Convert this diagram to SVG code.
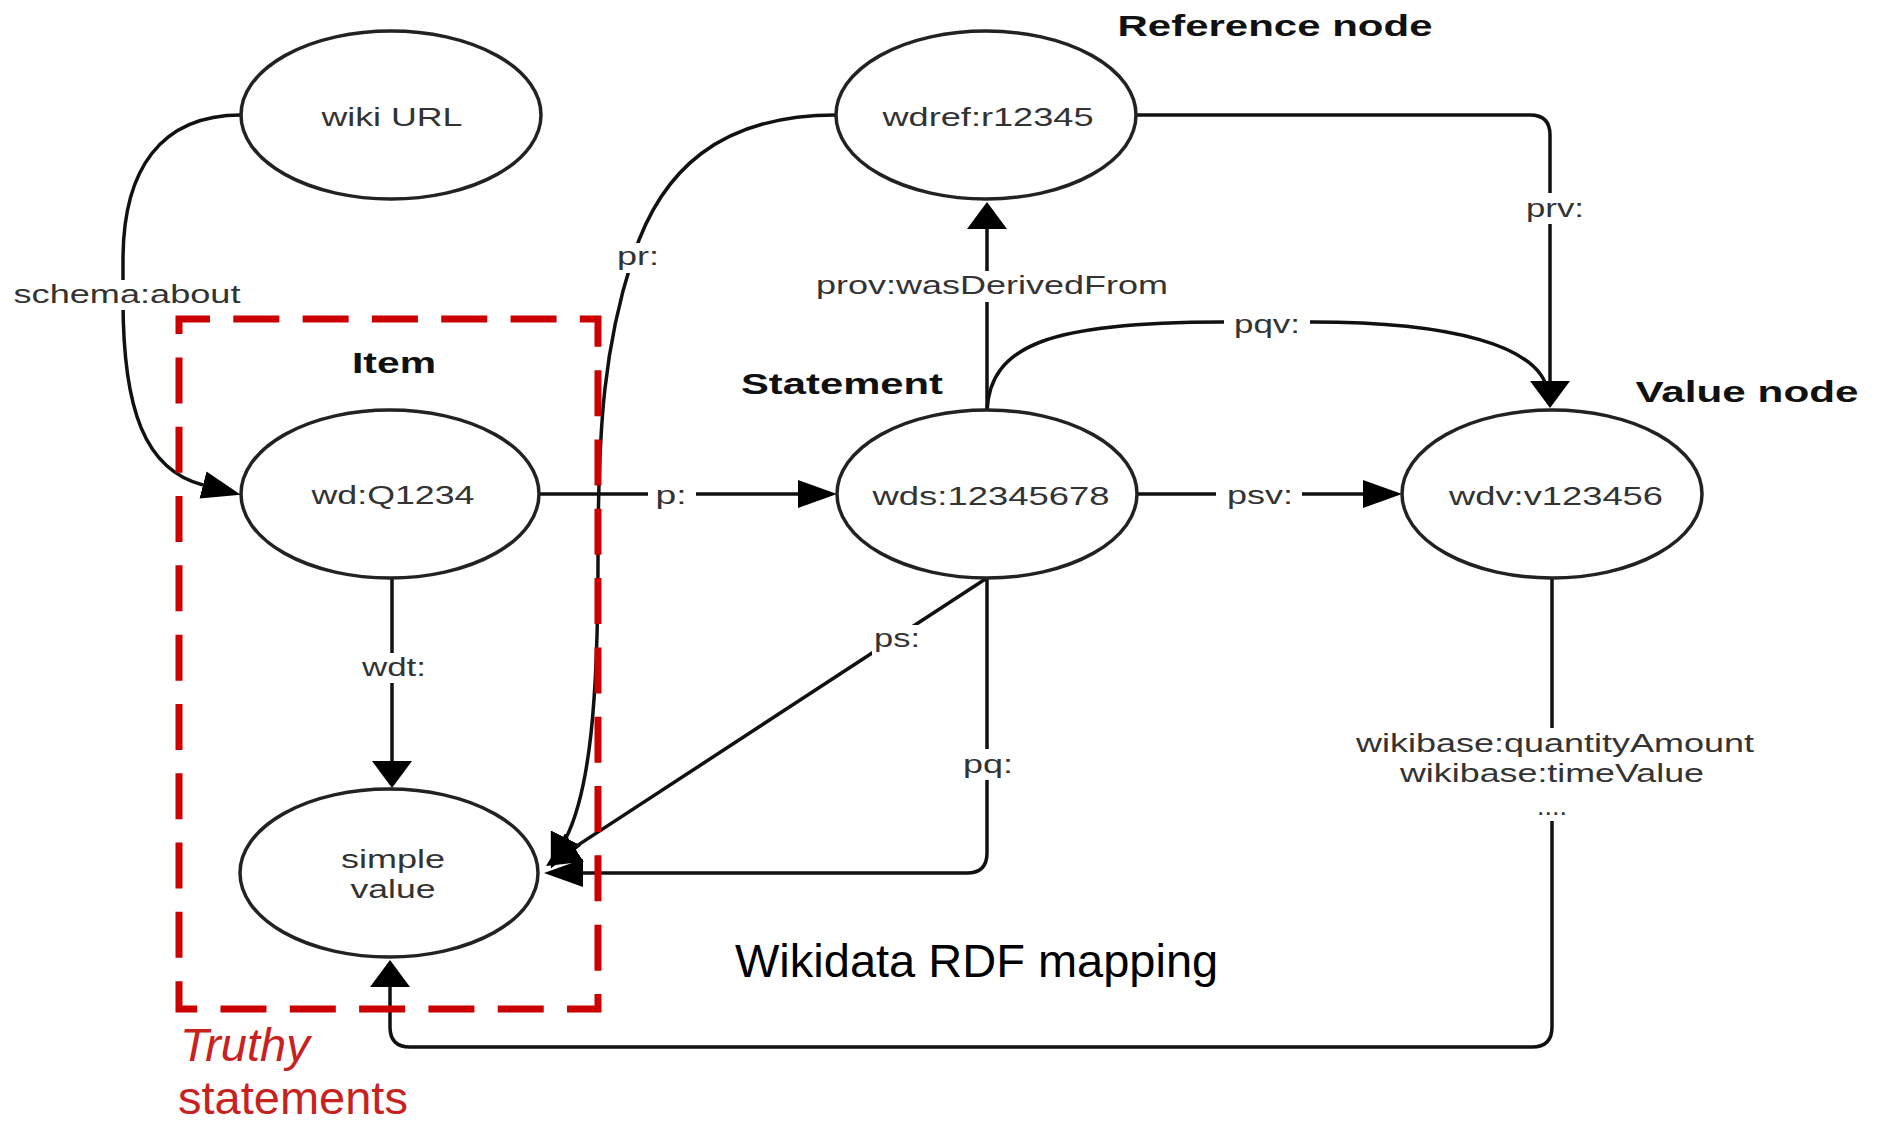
<svg xmlns="http://www.w3.org/2000/svg" width="1883" height="1126" viewBox="0 0 1883 1126">
<style>
.node ellipse{fill:#fff;stroke:#222;stroke-width:3.5}
.t{font-family:"Liberation Sans",Arial,sans-serif;font-size:26px;fill:#333;text-anchor:middle}
.title{font-family:"Liberation Sans",Arial,sans-serif;font-size:30px;font-weight:bold;fill:#111;text-anchor:middle}
.edge{fill:none;stroke:#111;stroke-width:3.5}
.lbg{fill:#fff}
.slide{font-family:"Liberation Sans",Arial,sans-serif;font-size:47px}
</style>
<defs>
<marker id="arrV" viewBox="0 -20 27 40" refX="0" refY="0" markerWidth="27" markerHeight="40" markerUnits="userSpaceOnUse" orient="auto"><path d="M0,-20 L27,0 L0,20 Z" fill="#000"/></marker>
<marker id="arrH" viewBox="0 -14 39 28" refX="0" refY="0" markerWidth="39" markerHeight="28" markerUnits="userSpaceOnUse" orient="auto"><path d="M0,-14 L39,0 L0,14 Z" fill="#000"/></marker>
<marker id="arrD" viewBox="0 -17 34 34" refX="0" refY="0" markerWidth="34" markerHeight="34" markerUnits="userSpaceOnUse" orient="auto"><path d="M0,-17 L34,0 L0,17 Z" fill="#000"/></marker>
</defs>
<rect width="1883" height="1126" fill="#fff"/>
<g id="connectors">
<g id="e-schema-about">
<path class="edge" d="M241,115 C160,115 123,170 123,260 L123,300 C123,410 145,470 203,485" marker-end="url(#arrH)"/>
<rect class="lbg" x="11" y="280" width="233" height="30"/>
<text class="t" x="127" y="303" textLength="227" lengthAdjust="spacingAndGlyphs">schema:about</text>
</g>
<g id="e-pr">
<path class="edge" d="M836,115 C720,115 660,170 632,260 C605,345 598,420 598,560 C598,700 590,790 566,838" marker-end="url(#arrD)"/>
<rect class="lbg" x="615" y="243" width="46" height="30"/>
<text class="t" x="638" y="265" textLength="42" lengthAdjust="spacingAndGlyphs">pr:</text>
</g>
<g id="e-prov">
<path class="edge" d="M987,411 L987,229" marker-end="url(#arrV)"/>
<rect class="lbg" x="813" y="271" width="358" height="31"/>
<text class="t" x="992" y="294" textLength="352" lengthAdjust="spacingAndGlyphs">prov:wasDerivedFrom</text>
</g>
<g id="e-pqv">
<path class="edge" d="M987,411 C990,345 1050,322 1222,322 L1312,322 C1450,322 1540,345 1548,392"/>
<rect class="lbg" x="1224" y="309" width="86" height="30"/>
<text class="t" x="1267" y="333" textLength="66" lengthAdjust="spacingAndGlyphs">pqv:</text>
</g>
<g id="e-prv">
<path class="edge" d="M1136,115 L1530,115 Q1550,115 1550,135 L1550,381" marker-end="url(#arrV)"/>
<rect class="lbg" x="1524" y="193" width="62" height="31"/>
<text class="t" x="1555" y="217" textLength="58" lengthAdjust="spacingAndGlyphs">prv:</text>
</g>
<g id="e-p">
<path class="edge" d="M539,494 L798,494" marker-end="url(#arrH)"/>
<rect class="lbg" x="648" y="481" width="48" height="30"/>
<text class="t" x="671" y="504" textLength="31" lengthAdjust="spacingAndGlyphs">p:</text>
</g>
<g id="e-psv">
<path class="edge" d="M1137,494 L1363,494" marker-end="url(#arrH)"/>
<rect class="lbg" x="1216" y="481" width="86" height="30"/>
<text class="t" x="1260" y="504" textLength="66" lengthAdjust="spacingAndGlyphs">psv:</text>
</g>
<g id="e-wdt">
<path class="edge" d="M392,577 L392,761" marker-end="url(#arrV)"/>
<rect class="lbg" x="358" y="653" width="72" height="30"/>
<text class="t" x="394" y="676" textLength="64" lengthAdjust="spacingAndGlyphs">wdt:</text>
</g>
<g id="e-ps">
<path class="edge" d="M987,578 L574.5,847.4" marker-end="url(#arrD)"/>
<rect class="lbg" x="872" y="625" width="50" height="30"/>
<text class="t" x="897" y="647" textLength="46" lengthAdjust="spacingAndGlyphs">ps:</text>
</g>
<g id="e-pq">
<path class="edge" d="M987,578 L987,853 Q987,873 967,873 L583,873" marker-end="url(#arrH)"/>
<rect class="lbg" x="961" y="749" width="54" height="31"/>
<text class="t" x="988" y="773" textLength="50" lengthAdjust="spacingAndGlyphs">pq:</text>
</g>
<g id="e-value">
<path class="edge" d="M1552,578 L1552,1027 Q1552,1047 1532,1047 L410,1047 Q390,1047 390,1027 L390,987" marker-end="url(#arrV)"/>
<rect class="lbg" x="1350" y="728" width="410" height="93"/>
<text class="t" x="1555" y="752" textLength="398" lengthAdjust="spacingAndGlyphs">wikibase:quantityAmount</text>
<text class="t" x="1552" y="782" textLength="304" lengthAdjust="spacingAndGlyphs">wikibase:timeValue</text>
<text class="t" x="1552" y="815" textLength="30" lengthAdjust="spacingAndGlyphs">....</text>
</g>
</g>
<g id="node-wiki-url" class="node">
<ellipse cx="391" cy="115" rx="150" ry="84"/>
<text class="t" x="392" y="126" textLength="141" lengthAdjust="spacingAndGlyphs">wiki URL</text>
</g>
<g id="node-wdref" class="node">
<ellipse cx="986" cy="115" rx="150" ry="84"/>
<text class="t" x="988" y="126" textLength="211" lengthAdjust="spacingAndGlyphs">wdref:r12345</text>
<text class="title" x="1275" y="36" textLength="315" lengthAdjust="spacingAndGlyphs">Reference node</text>
</g>
<g id="node-item" class="node">
<ellipse cx="390" cy="494" rx="149" ry="84"/>
<text class="t" x="393" y="504" textLength="163" lengthAdjust="spacingAndGlyphs">wd:Q1234</text>
<text class="title" x="394" y="373" textLength="84" lengthAdjust="spacingAndGlyphs">Item</text>
</g>
<g id="node-statement" class="node">
<ellipse cx="987" cy="494" rx="150" ry="84"/>
<text class="t" x="991" y="505" textLength="237" lengthAdjust="spacingAndGlyphs">wds:12345678</text>
<text class="title" x="842" y="394" textLength="202" lengthAdjust="spacingAndGlyphs">Statement</text>
</g>
<g id="node-value" class="node">
<ellipse cx="1552" cy="494" rx="150" ry="84"/>
<text class="t" x="1556" y="505" textLength="214" lengthAdjust="spacingAndGlyphs">wdv:v123456</text>
<text class="title" x="1747" y="402" textLength="223" lengthAdjust="spacingAndGlyphs">Value node</text>
</g>
<g id="node-simple-value" class="node">
<ellipse cx="389" cy="873" rx="149" ry="84"/>
<text class="t" x="393" y="868" textLength="104" lengthAdjust="spacingAndGlyphs">simple</text>
<text class="t" x="393" y="898" textLength="85" lengthAdjust="spacingAndGlyphs">value</text>
</g>
<g id="truthy-box">
<path d="M179,319 H598 V1009 H179 Z" fill="none" stroke="#cc0000" stroke-width="7" stroke-dasharray="46 23.31" stroke-dashoffset="15"/>
<text class="slide" x="180" y="1061" font-style="italic" fill="#c8221f" font-size="46">Truthy</text>
<text class="slide" x="178" y="1114" fill="#c8221f" font-size="46">statements</text>
</g>
<text class="slide" x="735" y="977" fill="#000">Wikidata RDF mapping</text>
</svg>
